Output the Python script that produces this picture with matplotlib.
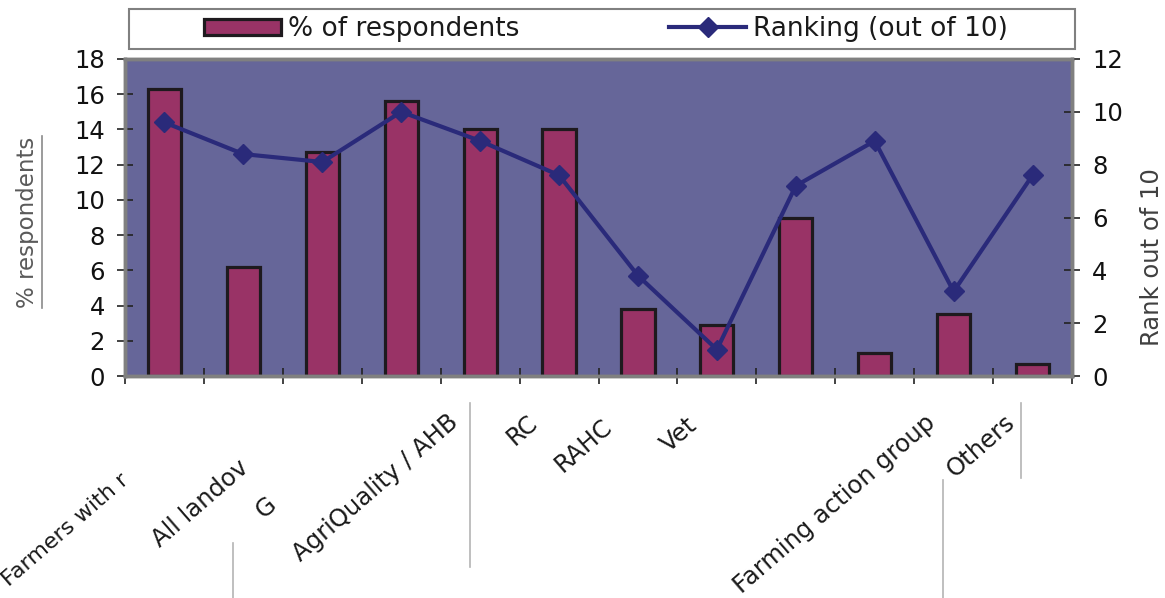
import numpy as np
import matplotlib
matplotlib.use("Agg")
import matplotlib.pyplot as plt
from matplotlib.lines import Line2D
from matplotlib.patches import Rectangle
from matplotlib.transforms import blended_transform_factory

# ---- data ----
categories = ["Farmers with r", "All landov", "G", "", "AgriQuality / AHB",
              "RC", "RAHC", "Vet", "", "", "Farming action group", "Others"]
pct_respondents = [16.3, 6.2, 12.7, 15.6, 14.0, 14.0, 3.8, 2.9, 9.0, 1.3, 3.5, 0.7]
ranking = [9.6, 8.4, 8.1, 10.0, 8.9, 7.6, 3.8, 1.0, 7.2, 8.9, 3.2, 7.6]
left_ticks = list(range(0, 19, 2))
right_ticks = list(range(0, 13, 2))

# label layout (x offset from category centre, y in axes fraction)
label_dx = [-0.41, 0.12, -0.52, 0.0, -0.22, -0.215, -0.26, -0.19, 0.0, 0.0, -0.17, -0.16]
label_y = [-0.297, -0.249, -0.366, -0.1, -0.107, -0.107, -0.12, -0.117, -0.1, -0.1, -0.107, -0.107]
label_size = [16, 17.5, 17.5, 17.5, 17.5, 17.5, 17.5, 17.5, 17.5, 17.5, 17.5, 17.5]

W, H = 1165, 598
plt.rcParams['font.family'] = ['DejaVu Sans']
fig = plt.figure(figsize=(W / 100, H / 100), dpi=100)
ax = fig.add_axes([125 / W, 1 - 376 / H, (1072 - 125) / W, (376 - 59) / H])
ax.set_facecolor('#666699')

x = np.arange(len(pct_respondents))
bars = ax.bar(x, pct_respondents, width=0.42, color='#993366',
              edgecolor='#1e1a1e', linewidth=2.3, zorder=2)
ax.set_xlim(-0.5, len(x) - 0.5)
ax.set_ylim(0, 18)
ax.set_yticks(left_ticks)
ax.set_xticks(np.arange(-0.5, len(x), 1.0))
ax.set_xticklabels([])
ax.tick_params(axis='y', direction='inout', length=11, width=1.2, color='#222222',
               labelsize=17.5, pad=9, labelcolor='#111111')
ax.tick_params(axis='x', direction='inout', length=11, width=1.2, color='#222222')
for s in ax.spines.values():
    s.set_color('#808080')
    s.set_linewidth(2.5)

ax2 = ax.twinx()
line, = ax2.plot(x, ranking, color='#2a2a7a', lw=3, marker='D', ms=10,
                 markeredgecolor='#2a2a7a', zorder=3)
ax2.set_ylim(0, 12)
ax2.set_yticks(right_ticks)
ax2.tick_params(axis='y', direction='inout', length=11, width=1.2, color='#222222',
                labelsize=17.5, pad=9, labelcolor='#111111')
for s in ax2.spines.values():
    s.set_color('#808080')
    s.set_linewidth(2.5)

# category labels
tr = blended_transform_factory(ax.transData, ax.transAxes)
for i, lab in enumerate(categories):
    if lab:
        ax.text(i + label_dx[i], label_y[i], lab, transform=tr, rotation=41,
                ha='right', va='top', fontsize=label_size[i], color='#1a1a1a',
                clip_on=False)

# axis titles
fig.text(28 / W, 1 - 222 / H, '% respondents', rotation=90, ha='center', va='center',
         fontsize=16.5, color='#5a5a5a')
fig.add_artist(Line2D([42 / W, 42 / W], [1 - 136 / H, 1 - 308 / H], color='#8a8a8a', lw=1.2))
fig.text(1152 / W, 1 - 257 / H, 'Rank out of 10', rotation=90, ha='center', va='center',
         fontsize=17.5, color='#404040')

# legend
fig.add_artist(Rectangle((129 / W, 1 - 49 / H), (1075 - 129) / W, 40 / H,
                         transform=fig.transFigure, facecolor='white',
                         edgecolor='#808080', lw=1.5, zorder=0))
fig.legend([bars, line], ['% of respondents', 'Ranking (out of 10)'],
           loc='center', bbox_to_anchor=(606 / W, 1 - 29 / H), ncol=2, frameon=False,
           fontsize=19, handlelength=2.9, handletextpad=0.27, columnspacing=5.7,
           handleheight=0.55, borderpad=0, labelcolor='#1a1a1a')

# stray grey rule lines around the labels
for xx, y0, y1 in [(233, 543, 598), (470, 403, 567), (943, 480, 598), (1021, 403, 478)]:
    fig.add_artist(Line2D([xx / W, xx / W], [1 - y0 / H, 1 - y1 / H], color='#b4b4b4', lw=1.2))

fig.savefig('out.png', dpi=100)
